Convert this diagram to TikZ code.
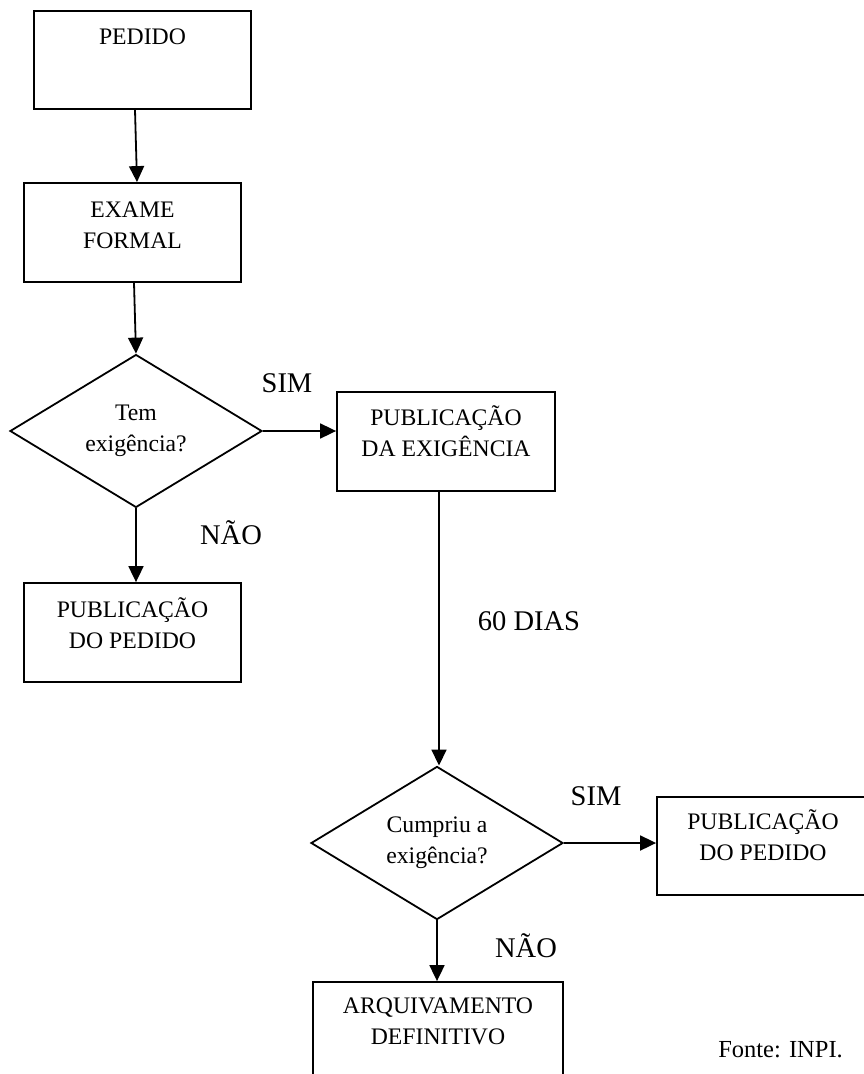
\documentclass[tikz,border=0pt]{standalone}
\usepackage{fontspec}
\setmainfont{Liberation Serif}
\usetikzlibrary{shapes.geometric,arrows.meta}
\begin{document}
\begin{tikzpicture}[x=1pt,y=-1pt,
  box/.style={draw, line width=1.8pt, rectangle, inner sep=0pt},
  dec/.style={draw, line width=1.8pt, diamond, inner sep=0pt, align=center, font=\fontsize{23.7}{31}\selectfont},
  txt/.style={align=center, inner sep=0pt, font=\fontsize{23.7}{31}\selectfont},
  lbl/.style={inner sep=0pt, font=\fontsize{28.5}{34}\selectfont},
  arr/.style={line width=1.8pt, -{Triangle[length=16pt,width=15pt]}},
]
\useasboundingbox (0,0) rectangle (864,1074);
\clip (0,0) rectangle (864,1074);

% boxes
\node[box, minimum width=217pt, minimum height=98pt] (pedido) at (142.5,60) {};
\node[txt] (pedidot) at (142.5,37) {PEDIDO};

\node[box, minimum width=217pt, minimum height=99pt] (exame) at (132.5,232.5) {};
\node[txt] (examet) at (132.5,225) {EXAME\\FORMAL};

\node[dec, minimum width=252pt, minimum height=151pt] (d1) at (136,431) {Tem\\exigência?};

\node[box, minimum width=218pt, minimum height=99pt] (pubex) at (446,441.5) {};
\node[txt] (pubext) at (446,431.5) {PUBLICAÇÃO\\DA EXIGÊNCIA};

\node[box, minimum width=217pt, minimum height=99pt] (pubped1) at (132.5,632.5) {};
\node[txt] (pubped1t) at (132.5,623) {PUBLICAÇÃO\\DO PEDIDO};

\node[dec, minimum width=252pt, minimum height=150pt] (d2) at (437,843) {Cumpriu a\\exigência?};

\node[box, minimum width=217pt, minimum height=98pt] (pubped2) at (765.5,846) {};
\node[txt] (pubped2t) at (763,835.5) {PUBLICAÇÃO\\DO PEDIDO};

\node[box, minimum width=250pt, minimum height=99pt] (arq) at (438,1031.5) {};
\node[txt] (arqt) at (438,1021.5) {ARQUIVAMENTO\\DEFINITIVO};

% labels
\node[lbl] (sim1) at (287,383.5) {SIM};
\node[lbl] (nao1) at (231,532.5) {NÃO};
\node[lbl] (dias) at (529,621) {60 DIAS};
\node[lbl] (sim2) at (596,796.5) {SIM};
\node[lbl] (nao2) at (526,946) {NÃO};
\node[inner sep=0pt, anchor=east, font=\fontsize{24.5}{30}\selectfont] (fonte) at (843,1050) {Fonte: INPI.};

% connectors
\draw[arr] ([xshift=-7.5pt]pedido.south) -- ([xshift=4.5pt]exame.north);
\draw[arr] ([xshift=1.5pt]exame.south) -- (d1.north);
\draw[arr] (d1.east) -- (d1.east -| pubex.west);
\draw[arr] (d1.south) -- (d1.south |- pubped1.north);
\draw[arr] ([xshift=-7pt]pubex.south) -- ([xshift=-7pt]pubex.south |- d2.north);
\draw[arr] (d2.east) -- (d2.east -| pubped2.west);
\draw[arr] (d2.south) -- (d2.south |- arq.north);
\end{tikzpicture}
\end{document}
